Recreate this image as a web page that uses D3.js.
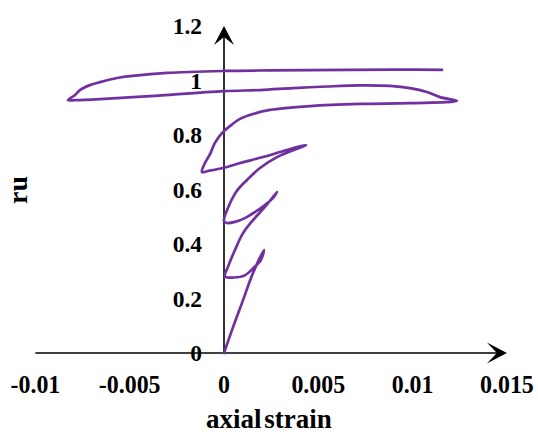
<!DOCTYPE html>
<html><head><meta charset="utf-8">
<script src="https://cdn.jsdelivr.net/npm/d3@7"></script>
<style>
body{margin:0;background:#fff}
text{font-family:"Liberation Serif","Times New Roman",serif;font-weight:bold;fill:#000}
</style>
</head><body><svg id="c" width="538" height="435"></svg>
<script>
const xTicks = [-0.01, -0.005, 0, 0.005, 0.01, 0.015];
const xTickLabels = ["-0.01", "-0.005", "0", "0.005", "0.01", "0.015"];
const yTicks = [0, 0.2, 0.4, 0.6, 0.8, 1, 1.2];
const yTickLabels = ["0", "0.2", "0.4", "0.6", "0.8", "1", "1.2"];
const xTitle = "axial strain";
const yTitle = "ru";

// [axial strain, ru], in drawing order
const load1 = [[0,0],[0.00048,0.095],[0.00101,0.194],[0.00154,0.294],[0.00212,0.378]];
const unload1 = [[0.00195,0.340],[0.00160,0.315],[0.00110,0.285],[0.00052,0.277],[0.00005,0.281]];
const reload2 = [[0.00021,0.316],[0.00058,0.378],[0.00101,0.440],[0.00154,0.488],[0.00217,0.536],[0.00281,0.591]];
const unload2 = [[0.00260,0.569],[0.00217,0.543],[0.00164,0.517],[0.00111,0.495],[0.00058,0.481],[0.00016,0.477],[0.00000,0.484]];
const reload3 = [[0.00021,0.532],[0.00064,0.591],[0.00122,0.635],[0.00191,0.679],[0.00281,0.719],[0.00435,0.763]];
const unload3 = [[0.00334,0.745],[0.00207,0.719],[0.00085,0.697],[-0.00005,0.679],[-0.00085,0.668],[-0.00117,0.664]];
const reload4 = [[-0.00101,0.697],[-0.00074,0.730],[-0.00048,0.771],[-0.00011,0.807],[0.00032,0.833],[0.00085,0.859],[0.00154,0.877],[0.00244,0.892],[0.00456,0.906],[0.00721,0.914],[0.00986,0.917],[0.01235,0.925]];
const unload4 = [[0.01145,0.939],[0.01076,0.958],[0.00986,0.972],[0.00880,0.980],[0.00721,0.982],[0.00546,0.978],[0.00366,0.972],[0.00191,0.965],[0,0.961],[-0.00392,0.943],[-0.00657,0.932],[-0.00790,0.928],[-0.00827,0.928]];
const reload5 = [[-0.00790,0.947],[-0.00764,0.965],[-0.00711,0.983],[-0.00657,0.994],[-0.00567,1.009],[-0.00483,1.017],[-0.00302,1.028],[0,1.035],[0.00244,1.037],[0.00668,1.039],[0.00933,1.040],[0.01156,1.039]];

const svg = d3.select("#c");
const x = d3.scaleLinear().domain([-0.01, 0.015]).range([35.4, 506.9]);
const y = d3.scaleLinear().domain([0, 1.2]).range([353, 26]);

// axes lines
svg.append("line").attr("x1", x(-0.01)).attr("x2", x(0.015) - 6).attr("y1", y(0)).attr("y2", y(0))
  .attr("stroke", "#000").attr("stroke-width", 1.6);
svg.append("line").attr("x1", x(0)).attr("x2", x(0)).attr("y1", y(0)).attr("y2", y(1.2) + 6)
  .attr("stroke", "#000").attr("stroke-width", 1.6);

// arrowheads
const xt = x(0.015), yt = y(0);
svg.append("path").attr("d", `M${xt},${yt} L${xt-20},${yt-10.5} L${xt-10},${yt} L${xt-20},${yt+10.5} Z`).attr("fill", "#000");
const ax = x(0), ay = y(1.2);
svg.append("path").attr("d", `M${ax},${ay} L${ax-10},${ay+19} L${ax},${ay+11} L${ax+10},${ay+19} Z`).attr("fill", "#000");

// x tick labels
svg.selectAll(".xl").data(xTicks).enter().append("text")
  .attr("transform", d => `translate(${x(d)},393) scale(0.92,1)`)
  .attr("text-anchor", "middle").attr("font-size", 26)
  .text((d, i) => xTickLabels[i]);

// y tick labels
svg.selectAll(".yl").data(yTicks).enter().append("text")
  .attr("x", 202).attr("y", d => y(d) + 8)
  .attr("text-anchor", "end").attr("font-size", 23.5)
  .text((d, i) => yTickLabels[i]);

// titles
svg.append("text").attr("x", 269).attr("y", 428).attr("text-anchor", "middle")
  .attr("font-size", 27).style("word-spacing", "-4px").text(xTitle);
svg.append("text").attr("transform", "translate(27,190) rotate(-90)").attr("text-anchor", "middle")
  .attr("font-size", 28).text(yTitle);

// curve
const pts = [].concat(load1, unload1, reload2, unload2, reload3, unload3, reload4, unload4, reload5);
const line = d3.line().x(d => x(d[0])).y(d => y(d[1])).curve(d3.curveCatmullRom.alpha(0.5));
svg.append("path").datum(pts).attr("d", line)
  .attr("fill", "none").attr("stroke", "#7030A0").attr("stroke-width", 2.7)
  .attr("stroke-linecap", "round").attr("stroke-linejoin", "round");
</script>
</body></html>
